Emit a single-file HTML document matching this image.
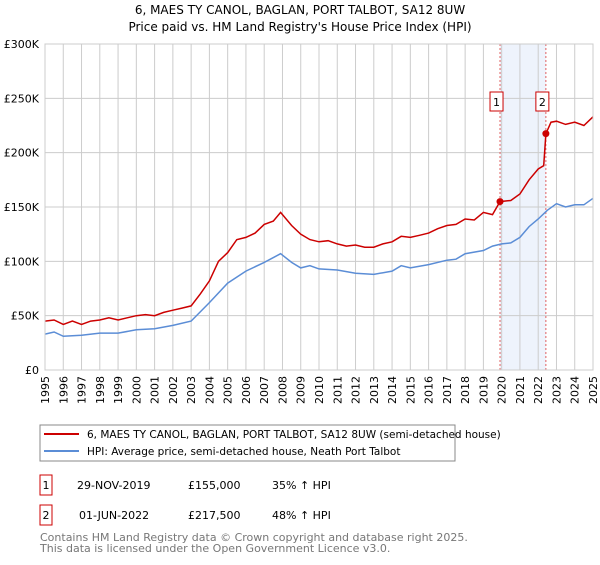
<!DOCTYPE html>
<html><head><meta charset="utf-8"><style>
body{margin:0;background:#fff;font-family:"Liberation Sans","DejaVu Sans",sans-serif;}
svg text{font-family:"DejaVu Sans","Liberation Sans",sans-serif;}
</style></head><body>
<svg width="600" height="560" xmlns="http://www.w3.org/2000/svg">
<text x="300" y="14" font-size="12" text-anchor="middle">6, MAES TY CANOL, BAGLAN, PORT TALBOT, SA12 8UW</text>
<text x="300" y="31" font-size="12" text-anchor="middle">Price paid vs. HM Land Registry's House Price Index (HPI)</text>
<g id="grid"></g>
<g id="marks"></g>
<g id="axes"></g>
<rect x="40" y="425" width="415" height="36" fill="#fff" stroke="#888"/>
<line x1="44" y1="434" x2="79" y2="434" stroke="#cc0000" stroke-width="2"/>
<text x="87" y="438" font-size="10.5">6, MAES TY CANOL, BAGLAN, PORT TALBOT, SA12 8UW (semi-detached house)</text>
<line x1="44" y1="451" x2="79" y2="451" stroke="#5b8dd6" stroke-width="2"/>
<text x="87" y="455" font-size="10.5">HPI: Average price, semi-detached house, Neath Port Talbot</text>
<rect x="40" y="475" width="12" height="20" fill="#fff" stroke="#cc0000"/>
<text x="46" y="489" font-size="11" text-anchor="middle">1</text>
<text x="77" y="489" font-size="11">29-NOV-2019</text>
<text x="188" y="489" font-size="11">£155,000</text>
<text x="272" y="489" font-size="11">35% ↑ HPI</text>
<rect x="40" y="505" width="12" height="20" fill="#fff" stroke="#cc0000"/>
<text x="46" y="519" font-size="11" text-anchor="middle">2</text>
<text x="79" y="519" font-size="11">01-JUN-2022</text>
<text x="188" y="519" font-size="11">£217,500</text>
<text x="272" y="519" font-size="11">48% ↑ HPI</text>
<text x="40" y="541" font-size="11" fill="#777">Contains HM Land Registry data © Crown copyright and database right 2025.</text>
<text x="40" y="552" font-size="11" fill="#777">This data is licensed under the Open Government Licence v3.0.</text>
</svg>
<script>
const yTicks=[0,50000,100000,150000,200000,250000,300000];
const yTickLabels=["£0","£50K","£100K","£150K","£200K","£250K","£300K"];
const xYears=[1995,1996,1997,1998,1999,2000,2001,2002,2003,2004,2005,2006,2007,2008,2009,2010,2011,2012,2013,2014,2015,2016,2017,2018,2019,2020,2021,2022,2023,2024,2025];
const redT=[1995,1995.5,1996,1996.5,1997,1997.5,1998,1998.5,1999,1999.5,2000,2000.5,2001,2001.5,2002,2002.5,2003,2003.5,2004,2004.5,2005,2005.5,2006,2006.5,2007,2007.5,2007.9,2008.5,2009,2009.5,2010,2010.5,2011,2011.5,2012,2012.5,2013,2013.5,2014,2014.5,2015,2015.5,2016,2016.5,2017,2017.5,2018,2018.5,2019,2019.5,2019.91,2020.5,2021,2021.5,2022,2022.3,2022.42,2022.7,2023,2023.5,2024,2024.5,2025];
const redV=[45,46,42,45,42,45,46,48,46,48,50,51,50,53,55,57,59,70,82,100,108,120,122,126,134,137,145,133,125,120,118,119,116,114,115,113,113,116,118,123,122,124,126,130,133,134,139,138,145,143,155,156,162,175,185,188,217.5,228,229,226,228,225,233];
const blueT=[1995,1995.5,1996,1997,1998,1999,2000,2001,2002,2003,2004,2005,2006,2007,2007.9,2008.5,2009,2009.5,2010,2011,2012,2013,2014,2014.5,2015,2016,2017,2017.5,2018,2019,2019.5,2020,2020.5,2021,2021.5,2022,2022.5,2023,2023.5,2024,2024.5,2025];
const blueV=[33,35,31,32,34,34,37,38,41,45,62,80,91,99,107,99,94,96,93,92,89,88,91,96,94,97,101,102,107,110,114,116,117,122,132,139,147,153,150,152,152,158];
const salesT=[2019.91,2022.42];
const salesV=[155,217.5];
const salesLabels=["1","2"];
const X0=45,X1=593,Y0=370,Y1=44;
const sx=t=>X0+(t-1995)*(X1-X0)/30;
const sy=v=>Y0-v/300000*(Y0-Y1);
const NS="http://www.w3.org/2000/svg";
function mk(tag,attrs,parent,text){const e=document.createElementNS(NS,tag);for(const k in attrs)e.setAttribute(k,attrs[k]);if(text!==undefined)e.textContent=text;parent.appendChild(e);return e;}
const grid=document.getElementById('grid'),marks=document.getElementById('marks'),axes=document.getElementById('axes');
const shade=mk('rect',{x:sx(salesT[0]),y:Y1,width:sx(salesT[1])-sx(salesT[0]),height:Y0-Y1,fill:'#eef3fc'},grid);


yTicks.forEach((v,i)=>{
  const l=mk('line',{x1:X0,x2:X1,y1:sy(v),y2:sy(v),stroke:'#ccc'},grid);
  
  
  const t=mk('text',{x:X0-6,y:sy(v)+4,'font-size':11,'text-anchor':'end'},axes,yTickLabels[i]);
  
  
});
xYears.forEach(y=>{
  const l=mk('line',{x1:sx(y),x2:sx(y),y1:Y1,y2:Y0,stroke:'#ccc'},grid);
  
  
  const t=mk('text',{x:0,y:0,'font-size':11,'text-anchor':'end',transform:`translate(${sx(y)+4},${Y0+6}) rotate(-90)`},axes,String(y));
  
  
});
salesT.forEach((t,i)=>{
  const l=mk('line',{x1:sx(t),x2:sx(t),y1:Y1,y2:Y0,stroke:'#e06060','stroke-dasharray':'2,2'},grid);
  
  
});
function path(T,V){return T.map((t,i)=>(i?'L':'M')+sx(t).toFixed(1)+','+sy(V[i]*1000).toFixed(1)).join('');}
const bl=mk('path',{d:path(blueT,blueV),fill:'none',stroke:'#5b8dd6','stroke-width':1.5},marks);


const rl=mk('path',{d:path(redT,redV),fill:'none',stroke:'#cc0000','stroke-width':1.5},marks);


salesT.forEach((t,i)=>{
  const c=mk('circle',{cx:sx(t),cy:sy(salesV[i]*1000),r:3.5,fill:'#cc0000'},marks);
  
  
  const b=mk('rect',{x:sx(t)-10,y:92,width:13,height:19,fill:'#fff',stroke:'#cc0000'},marks);
  
  
  const tx=mk('text',{x:sx(t)-3.5,y:106,'font-size':11,'text-anchor':'middle'},marks,salesLabels[i]);
  
  
});
const bd=mk('rect',{x:X0,y:Y1,width:X1-X0,height:Y0-Y1,fill:'none',stroke:'#ccc'},axes);


</script>
</body></html>
